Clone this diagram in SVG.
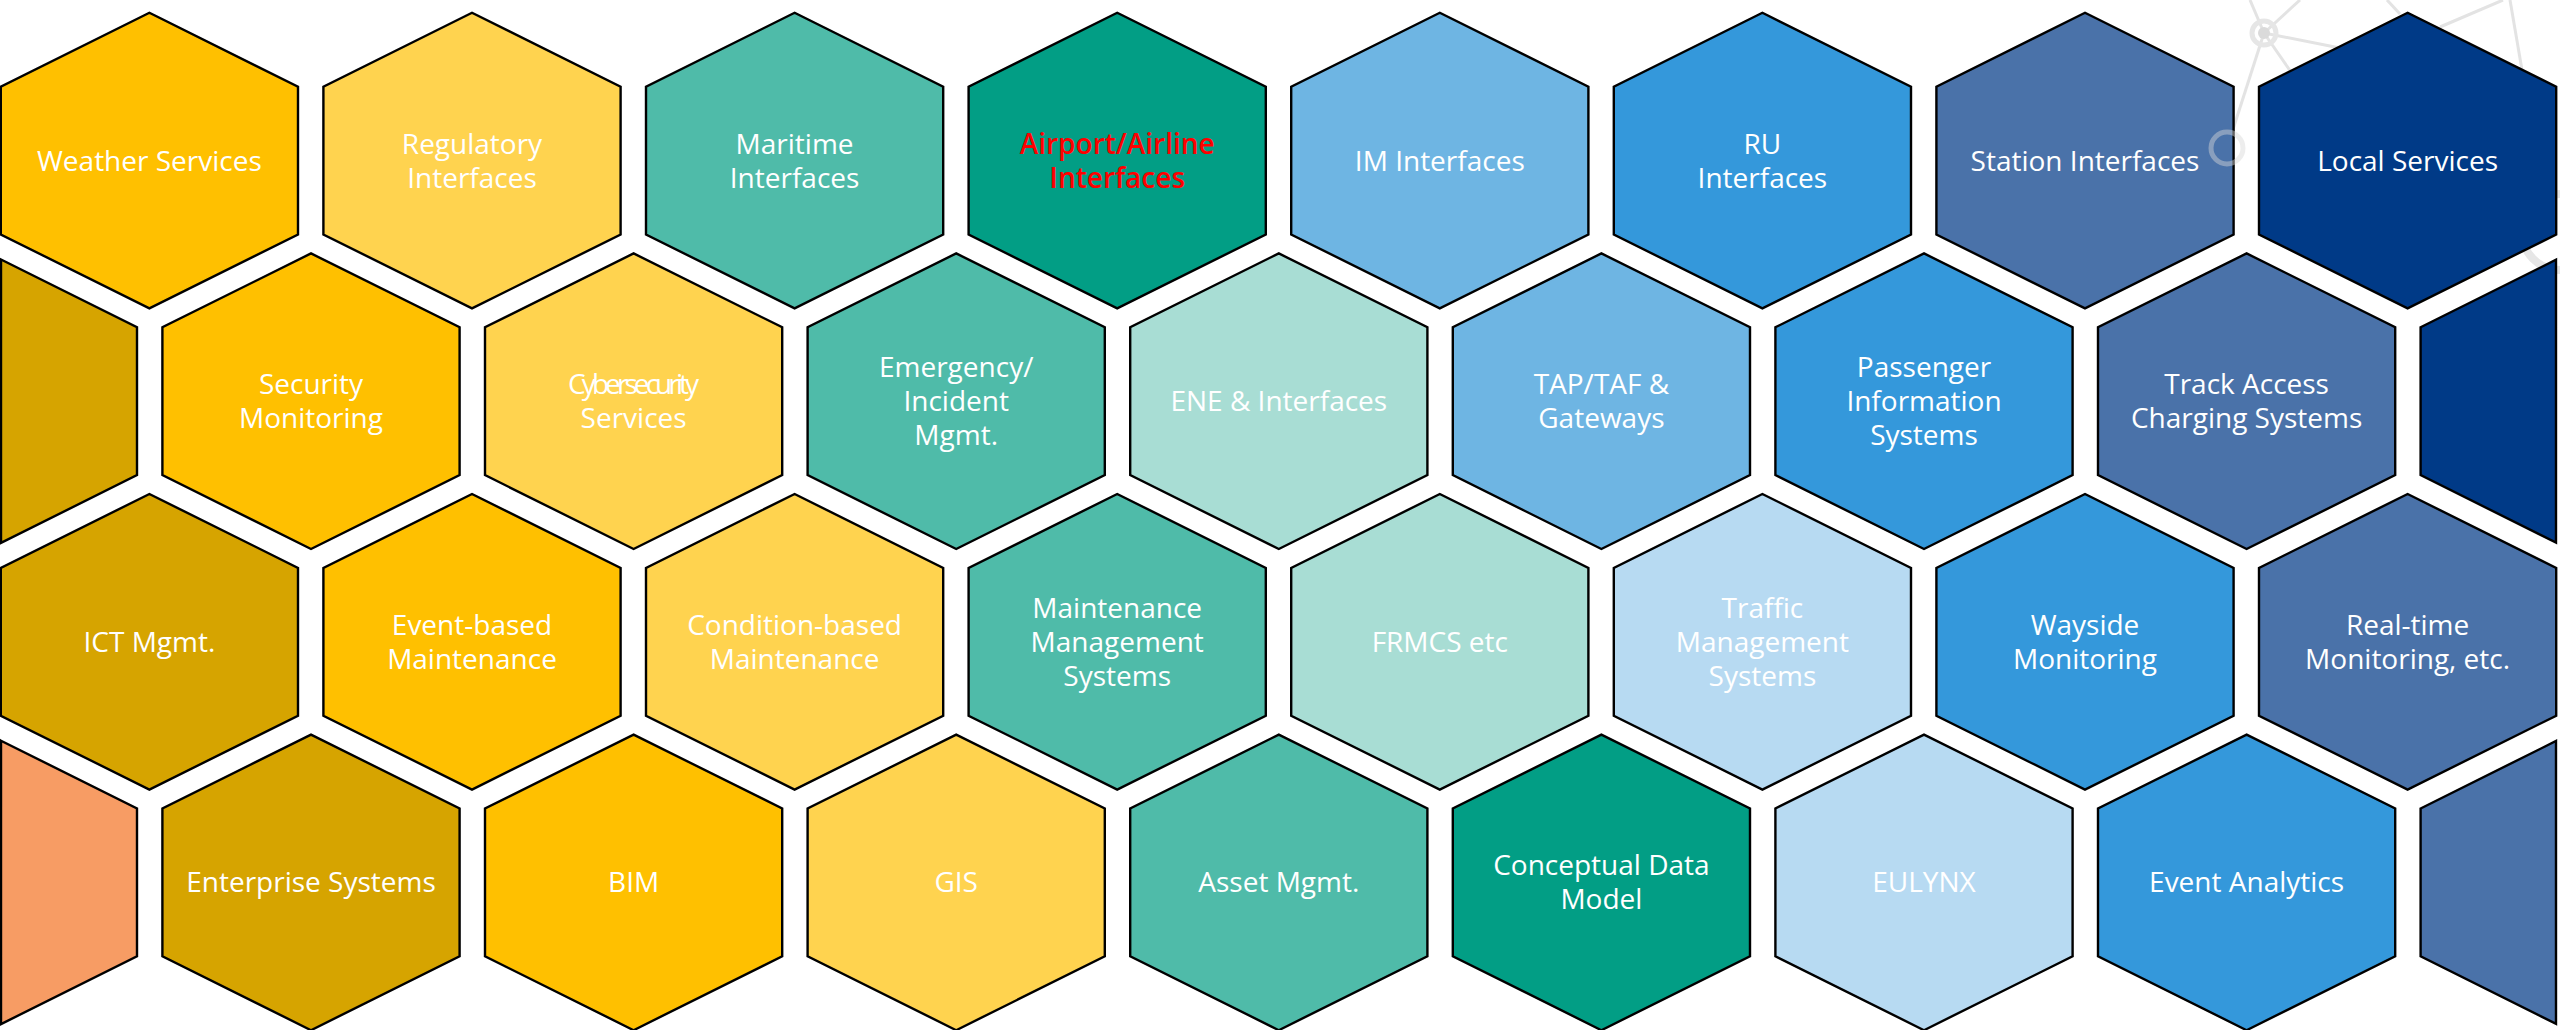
<svg xmlns="http://www.w3.org/2000/svg" xmlns:xlink="http://www.w3.org/1999/xlink" width="2560" height="1030" viewBox="0 0 2560 1030">
<style>
.hx{stroke:#000;stroke-width:2.4;stroke-linejoin:miter}
.t{font-family:"Open Sans","Liberation Sans",sans-serif;font-size:28px;fill:#fff;text-anchor:middle}
.red{fill:#ff0000;font-weight:600}
.gold{fill:#ffc000}.lgold{fill:#ffd34f}.dgold{fill:#d6a400}.salmon{fill:#f79c64}
.teal{fill:#4fbba9}.dteal{fill:#029e85}.mint{fill:#a8ddd4}
.lblue{fill:#6eb5e3}.blue{fill:#3498db}.pblue{fill:#b7daf2}.steel{fill:#4a72a9}.navy{fill:#003a87}
.deco{stroke:#e3e3e3;stroke-width:3;fill:none}
</style>
<defs>
<path id="hex" d="M0,-147.8 L148.6,-73.9 L148.6,73.9 L0,147.8 L-148.6,73.9 L-148.6,-73.9 Z"/>
</defs>
<rect width="2560" height="1030" fill="#fff"/>
<g id="background-network">
<line class="deco" x1="2264" y1="33" x2="2250" y2="0"/>
<line class="deco" x1="2264" y1="33" x2="2300" y2="0"/>
<line class="deco" x1="2264" y1="33" x2="2340" y2="48"/>
<line class="deco" x1="2264" y1="33" x2="2300" y2="85"/>
<line class="deco" x1="2264" y1="33" x2="2227" y2="148"/>
<line class="deco" x1="2440" y1="27" x2="2503" y2="0"/>
<line class="deco" x1="2510" y1="0" x2="2522" y2="70"/>
<line class="deco" x1="2387" y1="0" x2="2400" y2="14"/>
<circle cx="2264" cy="33" r="12" fill="none" stroke="#e6e6e6" stroke-width="5"/>
<circle cx="2264" cy="33" r="6" fill="#dadada"/>
<circle cx="2560" cy="232" r="38" fill="none" stroke="#e6e6e6" stroke-width="8"/>
</g>
<g id="row1">
<g id="weather-services"><use href="#hex" x="149.4" y="160.6" class="hx gold"/><text class="t" x="149.4" y="170.5">Weather Services</text></g>
<g id="regulatory-interfaces"><use href="#hex" x="472" y="160.6" class="hx lgold"/><text class="t" x="472" y="153.5">Regulatory<tspan x="472" dy="34">Interfaces</tspan></text></g>
<g id="maritime-interfaces"><use href="#hex" x="794.6" y="160.6" class="hx teal"/><text class="t" x="794.6" y="153.5">Maritime<tspan x="794.6" dy="34">Interfaces</tspan></text></g>
<g id="airport-airline-interfaces"><use href="#hex" x="1117.2" y="160.6" class="hx dteal"/><text class="t red" x="1117.2" y="153.5">Airport/Airline<tspan x="1117.2" dy="34">Interfaces</tspan></text></g>
<g id="im-interfaces"><use href="#hex" x="1439.8" y="160.6" class="hx lblue"/><text class="t" x="1439.8" y="170.5">IM Interfaces</text></g>
<g id="ru-interfaces"><use href="#hex" x="1762.4" y="160.6" class="hx blue"/><text class="t" x="1762.4" y="153.5">RU<tspan x="1762.4" dy="34">Interfaces</tspan></text></g>
<g id="station-interfaces"><use href="#hex" x="2085" y="160.6" class="hx steel"/><text class="t" x="2085" y="170.5">Station Interfaces</text></g>
<g id="local-services"><use href="#hex" x="2407.6" y="160.6" class="hx navy"/><text class="t" x="2407.6" y="170.5">Local Services</text></g>
</g>
<g id="row2">
<g id="partial-left-row2"><polygon class="hx dgold" points="1,259.5 137,327.3 137,475.1 1,542.9"/></g>
<g id="security-monitoring"><use href="#hex" x="311" y="401.2" class="hx gold"/><text class="t" x="311" y="394.2">Security<tspan x="311" dy="34">Monitoring</tspan></text></g>
<g id="cybersecurity-services"><use href="#hex" x="633.6" y="401.2" class="hx lgold"/><text class="t" x="633.6" y="394.2"><tspan textLength="131" lengthAdjust="spacing">Cybersecurity</tspan><tspan x="633.6" dy="34">Services</tspan></text></g>
<g id="emergency-incident-mgmt"><use href="#hex" x="956.2" y="401.2" class="hx teal"/><text class="t" x="956.2" y="377.2">Emergency/<tspan x="956.2" dy="34">Incident</tspan><tspan x="956.2" dy="34">Mgmt.</tspan></text></g>
<g id="ene-interfaces"><use href="#hex" x="1278.8" y="401.2" class="hx mint"/><text class="t" x="1278.8" y="411.2">ENE &amp; Interfaces</text></g>
<g id="tap-taf-gateways"><use href="#hex" x="1601.4" y="401.2" class="hx lblue"/><text class="t" x="1601.4" y="394.2">TAP/TAF &amp;<tspan x="1601.4" dy="34">Gateways</tspan></text></g>
<g id="passenger-information-systems"><use href="#hex" x="1924" y="401.2" class="hx blue"/><text class="t" x="1924" y="377.2">Passenger<tspan x="1924" dy="34">Information</tspan><tspan x="1924" dy="34">Systems</tspan></text></g>
<g id="track-access-charging-systems"><use href="#hex" x="2246.6" y="401.2" class="hx steel"/><text class="t" x="2246.6" y="394.2">Track Access<tspan x="2246.6" dy="34">Charging Systems</tspan></text></g>
<g id="partial-right-row2"><polygon class="hx navy" points="2420.6,327.3 2556,259.8 2556,542.6 2420.6,475.1"/></g>
</g>
<g id="row3">
<g id="ict-mgmt"><use href="#hex" x="149.4" y="641.8" class="hx dgold"/><text class="t" x="149.4" y="651.8">ICT Mgmt.</text></g>
<g id="event-based-maintenance"><use href="#hex" x="472" y="641.8" class="hx gold"/><text class="t" x="472" y="634.8">Event-based<tspan x="472" dy="34">Maintenance</tspan></text></g>
<g id="condition-based-maintenance"><use href="#hex" x="794.6" y="641.8" class="hx lgold"/><text class="t" x="794.6" y="634.8">Condition-based<tspan x="794.6" dy="34">Maintenance</tspan></text></g>
<g id="maintenance-management-systems"><use href="#hex" x="1117.2" y="641.8" class="hx teal"/><text class="t" x="1117.2" y="617.8">Maintenance<tspan x="1117.2" dy="34">Management</tspan><tspan x="1117.2" dy="34">Systems</tspan></text></g>
<g id="frmcs-etc"><use href="#hex" x="1439.8" y="641.8" class="hx mint"/><text class="t" x="1439.8" y="651.8">FRMCS etc</text></g>
<g id="traffic-management-systems"><use href="#hex" x="1762.4" y="641.8" class="hx pblue"/><text class="t" x="1762.4" y="617.8">Traffic<tspan x="1762.4" dy="34">Management</tspan><tspan x="1762.4" dy="34">Systems</tspan></text></g>
<g id="wayside-monitoring"><use href="#hex" x="2085" y="641.8" class="hx blue"/><text class="t" x="2085" y="634.8">Wayside<tspan x="2085" dy="34">Monitoring</tspan></text></g>
<g id="real-time-monitoring"><use href="#hex" x="2407.6" y="641.8" class="hx steel"/><text class="t" x="2407.6" y="634.8">Real-time<tspan x="2407.6" dy="34">Monitoring, etc.</tspan></text></g>
</g>
<g id="row4">
<g id="partial-left-row4"><polygon class="hx salmon" points="1,740.7 137,808.5 137,956.3 1,1024.1"/></g>
<g id="enterprise-systems"><use href="#hex" x="311" y="882.4" class="hx dgold"/><text class="t" x="311" y="892.4">Enterprise Systems</text></g>
<g id="bim"><use href="#hex" x="633.6" y="882.4" class="hx gold"/><text class="t" x="633.6" y="892.4">BIM</text></g>
<g id="gis"><use href="#hex" x="956.2" y="882.4" class="hx lgold"/><text class="t" x="956.2" y="892.4">GIS</text></g>
<g id="asset-mgmt"><use href="#hex" x="1278.8" y="882.4" class="hx teal"/><text class="t" x="1278.8" y="892.4">Asset Mgmt.</text></g>
<g id="conceptual-data-model"><use href="#hex" x="1601.4" y="882.4" class="hx dteal"/><text class="t" x="1601.4" y="875.4">Conceptual Data<tspan x="1601.4" dy="34">Model</tspan></text></g>
<g id="eulynx"><use href="#hex" x="1924" y="882.4" class="hx pblue"/><text class="t" x="1924" y="892.4">EULYNX</text></g>
<g id="event-analytics"><use href="#hex" x="2246.6" y="882.4" class="hx blue"/><text class="t" x="2246.6" y="892.4">Event Analytics</text></g>
<g id="partial-right-row4"><polygon class="hx steel" points="2420.6,808.5 2556,741 2556,1023.8 2420.6,956.3"/></g>
</g>
<g id="overlay-ring"><circle cx="2227" cy="148" r="16" fill="none" stroke="#d8d8d8" stroke-opacity="0.45" stroke-width="5"/></g>
</svg>
